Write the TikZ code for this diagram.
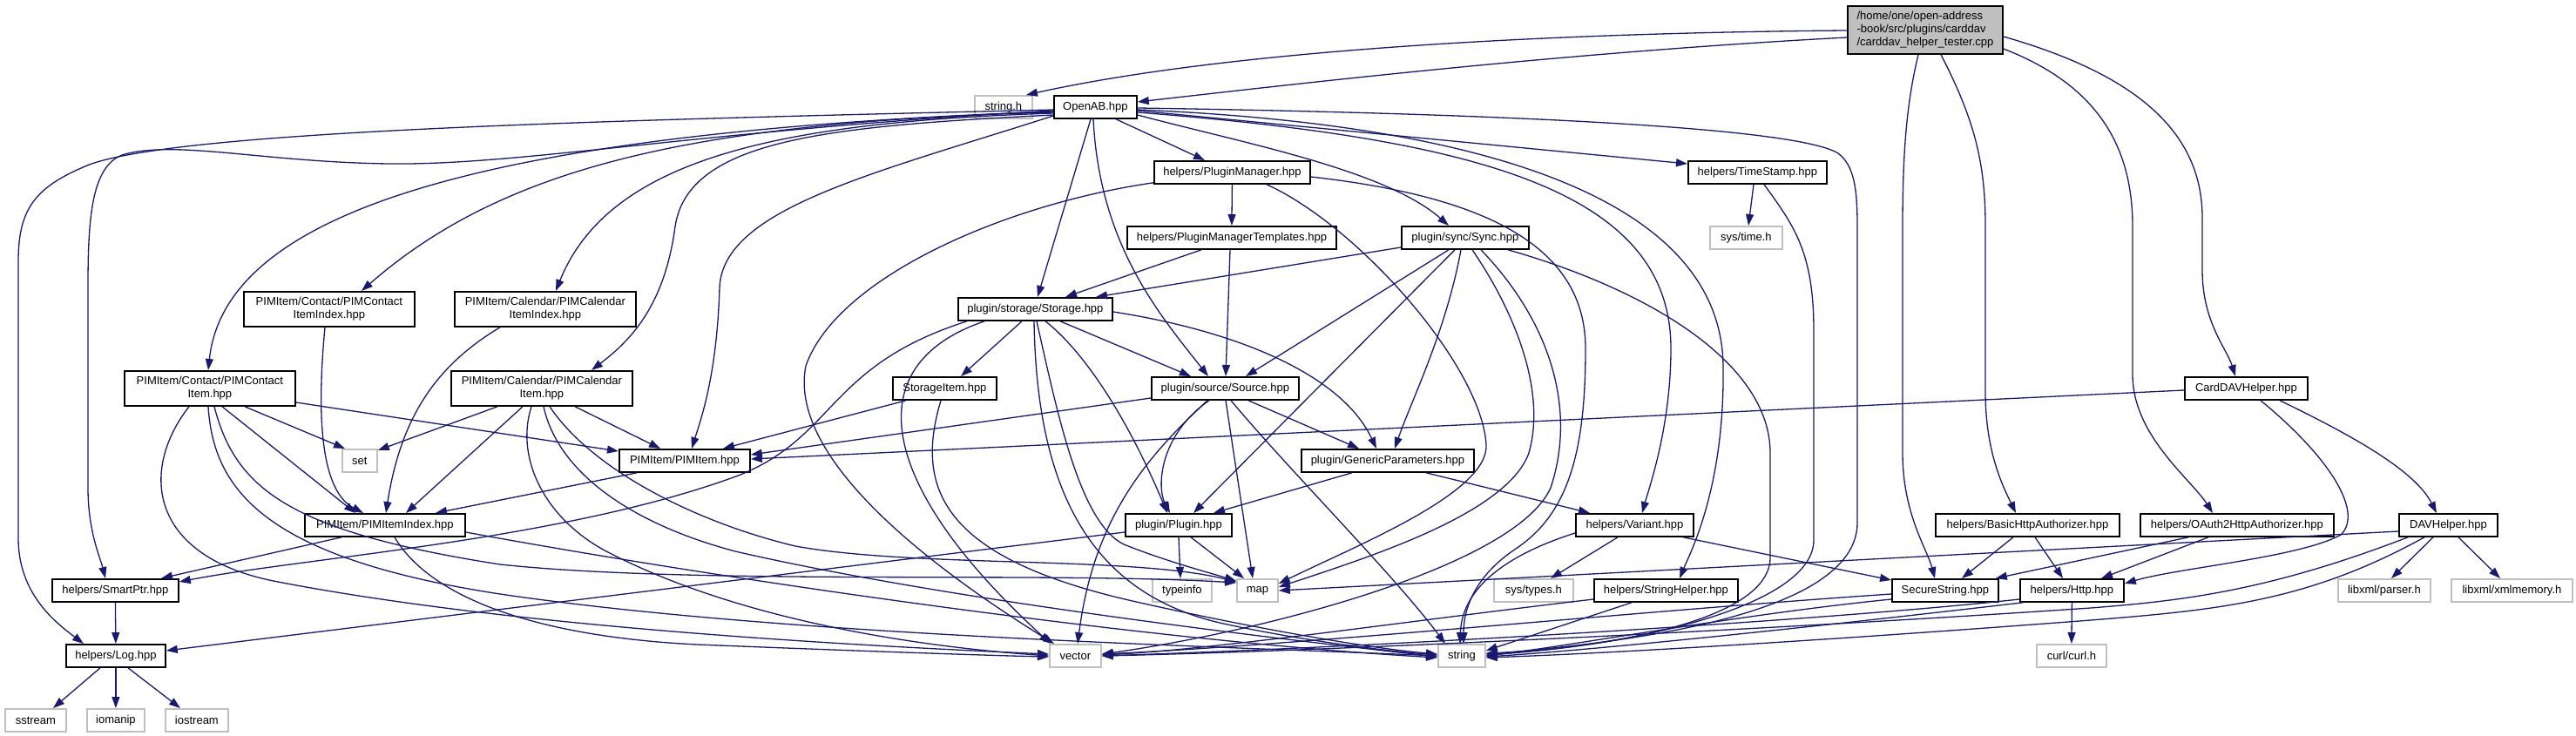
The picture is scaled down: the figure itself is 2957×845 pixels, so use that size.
\documentclass[tikz,border=0pt]{standalone}
\usepackage{fontspec}
\setmainfont{Liberation Sans}
\usetikzlibrary{calc,arrows.meta}
\definecolor{edgeblue}{HTML}{191970}
\definecolor{extgray}{HTML}{BFBFBF}
\definecolor{rootgray}{HTML}{BFBFBF}
\newcommand{\nodefont}{\fontsize{13}{15}\selectfont}
\tikzset{
  filebox/.style={draw=black, line width=1.8pt, fill=white, inner sep=0pt, anchor=north west, font=\nodefont, align=center, minimum height=26pt},
  extbox/.style={filebox, draw=extgray},
  dep/.style={draw=edgeblue, line width=1.3pt, -{Triangle[length=13pt,width=9pt]}},
}
\begin{document}
\begin{tikzpicture}[x=1pt,y=-1pt]
\fill[white] (0,0) rectangle (2957,845);
\useasboundingbox (0,0) rectangle (2957,845);

% ---------- nodes ----------
\node[filebox,minimum width=178pt,minimum height=55pt,fill=rootgray,align=left] (title) at (2120,6) {/home/one/open-address\\-book/src/plugins/carddav\\/carddav\_helper\_tester.cpp};
\node[extbox,minimum width=66pt] (stringh) at (1118,109) {string.h};
\node[filebox,minimum width=95pt] (openab) at (1209,109) {OpenAB.hpp};
\node[filebox,minimum width=179pt] (pluginmgr) at (1324,184) {helpers/PluginManager.hpp};
\node[filebox,minimum width=240pt] (pmtempl) at (1293,259) {helpers/PluginManagerTemplates.hpp};
\node[filebox,minimum width=146pt] (sync) at (1608,259) {plugin/sync/Sync.hpp};
\node[filebox,minimum width=159pt] (timestamp) at (1937,184) {helpers/TimeStamp.hpp};
\node[extbox,minimum width=83pt] (systime) at (1962,259) {sys/time.h};
\node[filebox,minimum width=177pt] (storage) at (1099,341) {plugin/storage/Storage.hpp};
\node[filebox,minimum width=196pt,minimum height=40pt] (contactidx) at (279,334) {PIMItem/Contact/PIMContact\\ItemIndex.hpp};
\node[filebox,minimum width=208pt,minimum height=40pt] (calidx) at (521,334) {PIMItem/Calendar/PIMCalendar\\ItemIndex.hpp};
\node[filebox,minimum width=196pt,minimum height=40pt] (contactitem) at (142,425) {PIMItem/Contact/PIMContact\\Item.hpp};
\node[filebox,minimum width=208pt,minimum height=40pt] (calitem) at (517,425) {PIMItem/Calendar/PIMCalendar\\Item.hpp};
\node[extbox,minimum width=40pt] (set) at (392,515) {set};
\node[filebox,minimum width=150pt] (pimitem) at (710,515) {PIMItem/PIMItem.hpp};
\node[filebox,minimum width=184pt] (pimidx) at (349,589) {PIMItem/PIMItemIndex.hpp};
\node[filebox,minimum width=145pt] (smartptr) at (59,664) {helpers/SmartPtr.hpp};
\node[filebox,minimum width=114pt] (log) at (75,739) {helpers/Log.hpp};
\node[extbox,minimum width=70pt] (sstream) at (5,813) {sstream};
\node[extbox,minimum width=66pt] (iomanip) at (99,813) {iomanip};
\node[extbox,minimum width=72pt] (iostream) at (189,813) {iostream};
\node[filebox,minimum width=119pt] (storageitem) at (1024,432) {StorageItem.hpp};
\node[filebox,minimum width=169pt] (source) at (1321,432) {plugin/source/Source.hpp};
\node[filebox,minimum width=198pt] (genparams) at (1493,515) {plugin/GenericParameters.hpp};
\node[filebox,minimum width=122pt] (plugin) at (1291,589) {plugin/Plugin.hpp};
\node[filebox,minimum width=135pt] (variant) at (1808,589) {helpers/Variant.hpp};
\node[extbox,minimum width=68pt] (typeinfo) at (1322,664) {typeinfo};
\node[extbox,minimum width=47pt] (map) at (1419,664) {map};
\node[extbox,minimum width=91pt] (systypes) at (1714,664) {sys/types.h};
\node[filebox,minimum width=165pt] (stringhelper) at (1829,664) {helpers/StringHelper.hpp};
\node[extbox,minimum width=59pt] (vector) at (1204,739) {vector};
\node[extbox,minimum width=54pt] (string) at (1650,739) {string};
\node[filebox,minimum width=141pt] (carddav) at (2507,432) {CardDAVHelper.hpp};
\node[filebox,minimum width=211pt] (basic) at (2221,589) {helpers/BasicHttpAuthorizer.hpp};
\node[filebox,minimum width=222pt] (oauth) at (2456,589) {helpers/OAuth2HttpAuthorizer.hpp};
\node[filebox,minimum width=113pt] (davhelper) at (2753,589) {DAVHelper.hpp};
\node[filebox,minimum width=122pt] (securestring) at (2171,664) {SecureString.hpp};
\node[filebox,minimum width=119pt] (http) at (2318,664) {helpers/Http.hpp};
\node[extbox,minimum width=106pt] (parser) at (2683,664) {libxml/parser.h};
\node[extbox,minimum width=139pt] (xmlmem) at (2813,664) {libxml/xmlmemory.h};
\node[extbox,minimum width=80pt] (curl) at (2337,739) {curl/curl.h};

% ---------- edges: root ----------
\draw[dep] ($(title.north west)+(0,29)$) .. controls (1750,38) and (1400,60) .. ($(stringh.north west)+(60,0)$);
\draw[dep] ($(title.north west)+(0,37)$) .. controls (1800,60) and (1500,95) .. ($(openab.north east)+(0,8)$);
\draw[dep] ($(title.south west)+(82,0)$) .. controls (2188,120) and (2184,180) .. (2184,260) -- (2184,520) .. controls (2184,590) and (2212,630) .. ($(securestring.north west)+(50,0)$);
\draw[dep] ($(title.south west)+(108,0)$) .. controls (2268,140) and (2279,190) .. (2279,260) -- (2279,450) .. controls (2279,520) and (2300,560) .. ($(basic.north west)+(93,0)$);
\draw[dep] ($(title.north east)+(0,50)$) .. controls (2400,95) and (2448,160) .. (2448,260) -- (2448,430) .. controls (2448,500) and (2515,550) .. ($(oauth.north west)+(84,0)$);
\draw[dep] ($(title.north east)+(0,36)$) .. controls (2450,85) and (2528,150) .. (2528,250) -- (2528,310) .. controls (2528,370) and (2556,400) .. ($(carddav.north west)+(59,0)$);

% ---------- edges: OpenAB ----------
\draw[dep] ($(openab.south west)+(72,0)$) -- ($(pluginmgr.north west)+(59,0)$);
\draw[dep] ($(openab.north east)+(0,23)$) .. controls (1430,165) and (1590,195) .. ($(sync.north west)+(55,0)$);
\draw[dep] ($(openab.north east)+(0,18)$) -- ($(timestamp.north west)+(0,4)$);
\draw[dep] ($(openab.north east)+(0,15)$) .. controls (1700,130) and (2060,145) .. (2110,176) .. controls (2128,190) and (2132,215) .. (2132,260) -- (2132,600) .. controls (2132,700) and (1900,735) .. ($(string.north east)+(0,12)$);
\draw[dep] ($(openab.north east)+(0,20)$) .. controls (1700,160) and (1918,220) .. (1918,400) .. controls (1918,490) and (1893,560) .. ($(variant.north west)+(77,0)$);
\draw[dep] ($(openab.north east)+(0,17)$) .. controls (1760,145) and (1976,250) .. (1978,420) .. controls (1980,560) and (1940,635) .. ($(stringhelper.north west)+(99,0)$);
\draw[dep] ($(openab.south west)+(43,0)$) -- ($(storage.north west)+(92,0)$);
\draw[dep] ($(openab.south west)+(46,0)$) .. controls (1262,280) and (1330,360) .. ($(source.north west)+(66,0)$);
\draw[dep] ($(openab.north west)+(0,24)$) .. controls (1000,200) and (830,240) .. (826,330) .. controls (823,430) and (805,480) .. ($(pimitem.north west)+(84,0)$);
\draw[dep] ($(openab.north west)+(0,23)$) .. controls (950,145) and (790,160) .. (775,260) .. controls (763,350) and (725,390) .. ($(calitem.north west)+(162,0)$);
\draw[dep] ($(openab.north west)+(0,21)$) .. controls (900,140) and (700,180) .. ($(calidx.north west)+(117,0)$);
\draw[dep] ($(openab.north west)+(0,20)$) .. controls (800,140) and (580,190) .. ($(contactidx.north west)+(136,0)$);
\draw[dep] ($(openab.north west)+(0,19)$) .. controls (600,150) and (260,230) .. ($(contactitem.north west)+(97,0)$);
\draw[dep] ($(openab.north west)+(0,18)$) .. controls (800,150) and (600,190) .. (446,188) .. controls (300,186) and (200,160) .. (140,178) .. controls (105,192) and (101,250) .. (101,330) -- (101,560) .. controls (101,610) and (115,640) .. ($(smartptr.north west)+(62,0)$);
\draw[dep] ($(openab.north west)+(0,17)$) .. controls (700,138) and (200,150) .. (100,190) .. controls (40,215) and (21,240) .. (21,300) -- (21,620) .. controls (22,680) and (60,712) .. ($(log.north west)+(21,0)$);

% ---------- edges: PluginManager / Templates ----------
\draw[dep] (pluginmgr.south) -- (pmtempl.north);
\draw[dep] ($(pluginmgr.south west)+(0,-2)$) .. controls (1150,235) and (960,320) .. (925,420) .. controls (905,520) and (1050,640) .. ($(vector.north west)+(6,0)$);
\draw[dep] ($(pluginmgr.south west)+(130,0)$) .. controls (1560,260) and (1700,420) .. (1706,510) .. controls (1710,565) and (1560,625) .. ($(map.north east)+(0,6)$);
\draw[dep] ($(pluginmgr.north east)+(0,19)$) .. controls (1700,225) and (1820,280) .. (1820,400) .. controls (1820,520) and (1800,590) .. (1740,630) .. controls (1692,662) and (1680,700) .. ($(string.north west)+(30,0)$);
\draw[dep] ($(pmtempl.south west)+(86,0)$) -- ($(storage.north west)+(124,0)$);
\draw[dep] ($(pmtempl.south west)+(119,0)$) -- ($(source.north west)+(86,0)$);

% ---------- edges: Sync ----------
\draw[dep] ($(sync.north west)+(0,25)$) -- ($(storage.north west)+(159,0)$);
\draw[dep] ($(sync.south west)+(55,0)$) -- ($(source.north west)+(109,0)$);
\draw[dep] ($(sync.south west)+(62,0)$) -- ($(plugin.north west)+(79,0)$);
\draw[dep] ($(sync.south west)+(69,0)$) .. controls (1660,380) and (1620,460) .. ($(genparams.north west)+(108,0)$);
\draw[dep] ($(sync.south west)+(82,0)$) .. controls (1740,360) and (1775,450) .. (1755,520) .. controls (1730,590) and (1570,640) .. ($(map.north east)+(0,10)$);
\draw[dep] ($(sync.south west)+(92,0)$) .. controls (1780,370) and (1810,470) .. (1780,560) .. controls (1740,650) and (1450,725) .. ($(vector.north east)+(0,12)$);
\draw[dep] ($(sync.south west)+(123,0)$) .. controls (1900,335) and (2032,420) .. (2032,520) -- (2032,640) .. controls (2032,712) and (1850,742) .. ($(string.north east)+(0,13)$);

% ---------- edges: TimeStamp ----------
\draw[dep] ($(timestamp.south west)+(76,0)$) -- ($(systime.north west)+(45,0)$);
\draw[dep] ($(timestamp.south west)+(88,0)$) .. controls (2060,260) and (2082,290) .. (2082,380) -- (2082,620) .. controls (2082,700) and (1850,745) .. ($(string.north east)+(0,11)$);

% ---------- edges: Storage ----------
\draw[dep] ($(storage.south west)+(74,0)$) -- ($(storageitem.north west)+(79,0)$);
\draw[dep] ($(storage.south west)+(118,0)$) -- ($(source.north west)+(46,0)$);
\draw[dep] ($(storage.north east)+(0,17)$) .. controls (1420,380) and (1540,430) .. ($(genparams.north west)+(87,0)$);
\draw[dep] ($(storage.south west)+(101,0)$) .. controls (1240,400) and (1290,470) .. ($(plugin.north west)+(49,0)$);
\draw[dep] ($(storage.south west)+(91,0)$) .. controls (1215,480) and (1240,600) .. (1290,625) .. controls (1340,645) and (1390,658) .. ($(map.north west)+(0,3)$);
\draw[dep] ($(storage.south west)+(88,0)$) .. controls (1190,560) and (1250,680) .. (1400,715) .. controls (1500,737) and (1600,748) .. ($(string.north west)+(0,13)$);
\draw[dep] ($(storage.south west)+(31,0)$) .. controls (980,420) and (1010,560) .. ($(vector.north west)+(2,0)$);
\draw[dep] ($(storage.south west)+(11,0)$) .. controls (950,420) and (960,500) .. (850,545) .. controls (650,620) and (350,640) .. ($(smartptr.north east)+(0,4)$);

% ---------- edges: StorageItem ----------
\draw[dep] ($(storageitem.south west)+(16,0)$) -- ($(pimitem.north west)+(120,0)$);
\draw[dep] ($(storageitem.south west)+(56,0)$) .. controls (1050,560) and (1080,640) .. (1300,690) .. controls (1450,724) and (1580,745) .. ($(string.north west)+(0,12)$);

% ---------- edges: Source ----------
\draw[dep] ($(source.north west)+(0,25)$) -- ($(pimitem.north east)+(0,7)$);
\draw[dep] ($(source.south west)+(67,0)$) .. controls (1330,500) and (1328,560) .. ($(plugin.north west)+(52,0)$);
\draw[dep] ($(source.south west)+(65,0)$) .. controls (1310,530) and (1255,600) .. ($(vector.north west)+(33,0)$);
\draw[dep] ($(source.south west)+(86,0)$) -- ($(map.north west)+(19,0)$);
\draw[dep] ($(source.south west)+(92,0)$) .. controls (1480,540) and (1600,660) .. ($(string.north west)+(9,0)$);
\draw[dep] ($(source.south west)+(112,0)$) -- ($(genparams.north west)+(67,0)$);

% ---------- edges: GenericParameters / Plugin / Variant ----------
\draw[dep] ($(genparams.south west)+(59,0)$) -- ($(plugin.north west)+(102,0)$);
\draw[dep] ($(genparams.south west)+(144,0)$) -- ($(variant.north west)+(17,0)$);
\draw[dep] ($(plugin.south west)+(62,0)$) -- ($(typeinfo.north west)+(33,0)$);
\draw[dep] ($(plugin.south west)+(76,0)$) -- ($(map.north west)+(9,0)$);
\draw[dep] ($(plugin.north west)+(0,22)$) -- ($(log.north east)+(0,8)$);
\draw[dep] ($(variant.north west)+(0,23)$) .. controls (1720,640) and (1678,680) .. ($(string.north west)+(26,0)$);
\draw[dep] ($(variant.south west)+(49,0)$) -- ($(systypes.north west)+(66,0)$);
\draw[dep] ($(variant.south west)+(124,0)$) -- ($(securestring.north west)+(0,2)$);

% ---------- edges: StringHelper / SecureString / Http ----------
\draw[dep] ($(stringhelper.north west)+(0,24)$) .. controls (1600,715) and (1400,745) .. ($(vector.north east)+(0,13)$);
\draw[dep] ($(stringhelper.south west)+(44,0)$) -- ($(string.north east)+(0,8)$);
\draw[dep] ($(securestring.north west)+(0,18)$) .. controls (1900,700) and (1500,740) .. ($(vector.north east)+(0,12)$);
\draw[dep] ($(securestring.north west)+(0,24)$) .. controls (2000,705) and (1800,742) .. ($(string.north east)+(0,14)$);
\draw[dep] (http.south) -- (curl.north);
\draw[dep] ($(http.north west)+(0,24)$) .. controls (2100,712) and (1600,742) .. ($(vector.north east)+(0,14)$);
\draw[dep] ($(http.south west)+(4,0)$) .. controls (2150,712) and (1850,745) .. ($(string.north east)+(0,15)$);

% ---------- edges: authorizers ----------
\draw[dep] ($(basic.south west)+(90,0)$) -- ($(securestring.north west)+(81,0)$);
\draw[dep] ($(basic.south west)+(115,0)$) -- ($(http.north west)+(50,0)$);
\draw[dep] ($(oauth.south west)+(56,0)$) -- ($(securestring.north east)+(-4,0)$);
\draw[dep] ($(oauth.south west)+(79,0)$) -- ($(http.north west)+(94,0)$);

% ---------- edges: CardDAVHelper / DAVHelper ----------
\draw[dep] ($(carddav.north west)+(0,16)$) -- ($(pimitem.north east)+(0,12)$);
\draw[dep] ($(carddav.south west)+(88,0)$) .. controls (2680,530) and (2712,590) .. (2687,614) .. controls (2640,640) and (2500,652) .. ($(http.north east)+(0,6)$);
\draw[dep] ($(carddav.south west)+(110,0)$) .. controls (2700,500) and (2772,540) .. ($(davhelper.north west)+(44,0)$);
\draw[dep] ($(davhelper.north west)+(0,21)$) -- ($(map.north east)+(0,14)$);
\draw[dep] ($(davhelper.south west)+(11,0)$) .. controls (2600,680) and (2500,690) .. (2400,698) .. controls (2000,725) and (1500,748) .. ($(vector.north east)+(0,14)$);
\draw[dep] ($(davhelper.south west)+(30,0)$) .. controls (2650,690) and (2550,700) .. (2400,712) .. controls (2100,735) and (1850,750) .. ($(string.north east)+(0,16)$);
\draw[dep] ($(davhelper.south west)+(40,0)$) -- ($(parser.north west)+(62,0)$);
\draw[dep] ($(davhelper.south west)+(69,0)$) -- ($(xmlmem.north west)+(57,0)$);

% ---------- edges: PIM items ----------
\draw[dep] ($(contactidx.south west)+(94,0)$) .. controls (366,450) and (362,560) .. ($(pimidx.north west)+(68,0)$);
\draw[dep] ($(calidx.south west)+(53,0)$) .. controls (500,420) and (460,480) .. ($(pimidx.north west)+(94,0)$);
\draw[dep] ($(contactitem.south west)+(139,0)$) -- ($(set.north west)+(4,0)$);
\draw[dep] ($(contactitem.south west)+(113,0)$) -- ($(pimidx.north west)+(59,0)$);
\draw[dep] ($(contactitem.north east)+(0,37)$) -- ($(pimitem.north west)+(0,3)$);
\draw[dep] ($(contactitem.south west)+(104,0)$) .. controls (270,560) and (330,610) .. (574,648) .. controls (800,672) and (1200,656) .. ($(map.north west)+(0,5)$);
\draw[dep] ($(contactitem.south west)+(97,0)$) .. controls (245,560) and (300,640) .. (574,682) .. controls (900,730) and (1400,742) .. ($(string.north west)+(0,14)$);
\draw[dep] ($(contactitem.south west)+(75,0)$) .. controls (160,540) and (170,640) .. (319,668) .. controls (600,722) and (1000,742) .. ($(vector.north west)+(0,12)$);
\draw[dep] ($(calitem.south west)+(54,0)$) -- ($(set.north east)+(0,2)$);
\draw[dep] ($(calitem.south west)+(83,0)$) -- ($(pimidx.north west)+(117,0)$);
\draw[dep] ($(calitem.south west)+(143,0)$) -- ($(pimitem.north west)+(48,0)$);
\draw[dep] ($(calitem.south west)+(93,0)$) .. controls (590,530) and (630,600) .. (700,635) .. controls (850,712) and (1050,742) .. ($(vector.north west)+(0,14)$);
\draw[dep] ($(calitem.south west)+(107,0)$) .. controls (640,540) and (720,600) .. (844,633) .. controls (1100,692) and (1500,737) .. ($(string.north west)+(0,15)$);
\draw[dep] ($(calitem.south west)+(114,0)$) .. controls (680,540) and (800,600) .. (913,627) .. controls (1050,652) and (1300,638) .. ($(map.north west)+(0,4)$);
\draw[dep] ($(pimitem.south west)+(21,0)$) -- ($(pimidx.north west)+(151,0)$);
\draw[dep] ($(pimidx.south west)+(43,0)$) -- ($(smartptr.north west)+(126,0)$);
\draw[dep] ($(pimidx.south west)+(104,0)$) .. controls (490,680) and (600,730) .. (800,740) .. controls (1000,748) and (1150,753) .. ($(vector.north west)+(0,15)$);
\draw[dep] ($(pimidx.north east)+(0,22)$) .. controls (800,660) and (1300,735) .. ($(string.north west)+(0,16)$);

% ---------- edges: SmartPtr / Log ----------
\draw[dep] (smartptr.south) -- (log.north);
\draw[dep] ($(log.south west)+(40,0)$) -- ($(sstream.north west)+(56,0)$);
\draw[dep] (log.south) -- (iomanip.north);
\draw[dep] ($(log.south west)+(72,0)$) -- ($(iostream.north west)+(18,0)$);
\end{tikzpicture}
\end{document}
